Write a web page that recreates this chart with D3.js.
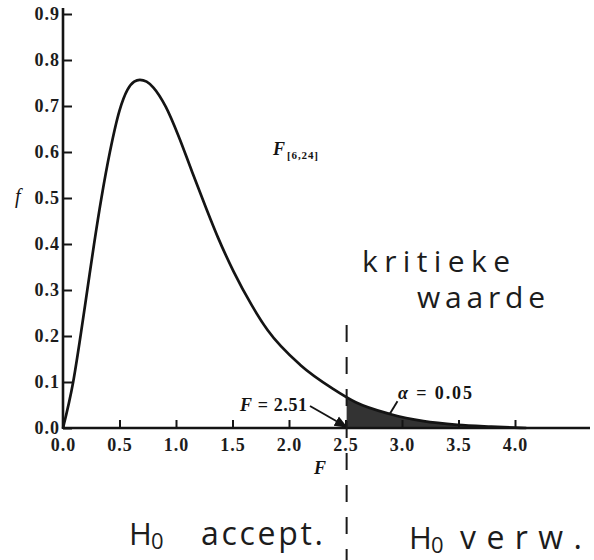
<!DOCTYPE html>
<html>
<head>
<meta charset="utf-8">
<script src="https://cdn.jsdelivr.net/npm/d3@7"></script>
<style>
  body { margin: 0; background: #fff; }
  svg { display: block; }
</style>
</head>
<body>
<svg id="chart" width="594" height="560"></svg>
<script>
// Density of the F distribution with (6, 24) degrees of freedom
const fValues = [0, 0.09, 0.155, 0.215, 0.275, 0.34, 0.415, 0.50, 0.57, 0.63, 0.68, 0.74, 0.80, 0.91,
                 1.03, 1.13, 1.26, 1.37, 1.51, 1.67, 1.81, 2.10, 2.39, 2.59, 2.90, 3.19, 3.49, 3.79, 4.10];
const density = [0, 0.100, 0.200, 0.300, 0.400, 0.500, 0.600, 0.690, 0.735, 0.753, 0.757, 0.753, 0.740, 0.698,
                 0.630, 0.565, 0.482, 0.415, 0.340, 0.267, 0.213, 0.137, 0.085, 0.056, 0.030, 0.015, 0.007, 0.003, 0];
const xTicks = [0, 0.5, 1.0, 1.5, 2.0, 2.5, 3.0, 3.5, 4.0];
const yTicks = [0, 0.1, 0.2, 0.3, 0.4, 0.5, 0.6, 0.7, 0.8, 0.9];
const criticalF = 2.51;
const alpha = 0.05;

const W = 594, H = 560;
const svg = d3.select("#chart");
const serif = "'Liberation Serif', 'Times New Roman', serif";
const hand = "'Open Sans', 'Noto Sans', sans-serif";
const ink = "#141414";
const pencil = "#1c1c1c";

const x = d3.scaleLinear().domain([0, 4]).range([63, 515]);
const y = d3.scaleLinear().domain([0, 0.9]).range([428, 14]);

const points = fValues.map((f, i) => [f, density[i]]);
const line = d3.line().x(d => x(d[0])).y(d => y(d[1])).curve(d3.curveMonotoneX);
const area = d3.area().x(d => x(d[0])).y0(y(0)).y1(d => y(d[1])).curve(d3.curveMonotoneX);

// rejection region (upper tail beyond the critical value)
const defs = svg.append("defs");
defs.append("clipPath").attr("id", "tail")
  .append("rect")
  .attr("x", x(criticalF)).attr("y", 0)
  .attr("width", W - x(criticalF)).attr("height", y(0));
defs.append("marker")
  .attr("id", "tip").attr("viewBox", "0 0 10 10")
  .attr("refX", 9).attr("refY", 5)
  .attr("markerWidth", 7).attr("markerHeight", 7)
  .attr("orient", "auto")
  .append("path").attr("d", "M0,1 L10,5 L0,9 Z").attr("fill", ink);

svg.append("path").datum(points)
  .attr("d", area)
  .attr("fill", "#333")
  .attr("clip-path", "url(#tail)");

// axes
const xAxis = d3.axisBottom(x).tickValues(xTicks).tickFormat(d3.format(".1f"))
  .tickSizeInner(-8).tickSizeOuter(0).tickPadding(10);
const gx = svg.append("g").attr("transform", `translate(0,${y(0)})`).call(xAxis);
gx.select(".domain").remove();
gx.selectAll(".tick line").attr("stroke", ink).attr("stroke-width", 2);
gx.selectAll(".tick text")
  .attr("font-family", serif).attr("font-weight", "bold").attr("font-size", 18)
  .attr("letter-spacing", 1).attr("fill", "#1c1c1c");

const yAxis = d3.axisLeft(y).tickValues(yTicks).tickFormat(d3.format(".1f"))
  .tickSizeInner(-9).tickSizeOuter(0).tickPadding(3);
const gy = svg.append("g").attr("transform", `translate(${x(0)},0)`).call(yAxis);
gy.select(".domain").remove();
gy.selectAll(".tick line").attr("stroke", ink).attr("stroke-width", 2);
gy.selectAll(".tick text")
  .attr("font-family", serif).attr("font-weight", "bold").attr("font-size", 18)
  .attr("letter-spacing", 1).attr("fill", "#1c1c1c");

svg.append("line")
  .attr("x1", x(0)).attr("x2", 590).attr("y1", y(0)).attr("y2", y(0))
  .attr("stroke", ink).attr("stroke-width", 2.6);
svg.append("line")
  .attr("x1", x(0)).attr("x2", x(0)).attr("y1", y(0) + 1).attr("y2", 8)
  .attr("stroke", ink).attr("stroke-width", 2.6);

// density curve
svg.append("path").datum(points)
  .attr("d", line)
  .attr("fill", "none").attr("stroke", ink).attr("stroke-width", 2.7)
  .attr("stroke-linejoin", "round");

// axis titles
svg.append("text").attr("x", 15).attr("y", 203)
  .attr("font-family", serif).attr("font-style", "italic").attr("font-size", 20)
  .attr("fill", ink).text("f");
svg.append("text").attr("x", 320).attr("y", 474).attr("text-anchor", "middle")
  .attr("font-family", serif).attr("font-style", "italic").attr("font-weight", "bold")
  .attr("font-size", 18).attr("fill", ink).text("F");

// distribution name
svg.append("text").attr("x", 273).attr("y", 155)
  .attr("font-family", serif).attr("font-weight", "bold").attr("font-style", "italic")
  .attr("font-size", 18).attr("fill", ink).text("F");
svg.append("text").attr("x", 287).attr("y", 159)
  .attr("font-family", serif).attr("font-weight", "bold").attr("font-size", 11)
  .attr("fill", ink).attr("textLength", 31).attr("lengthAdjust", "spacing").text("[6,24]");

// critical value annotation
const crit = svg.append("text").attr("x", 240).attr("y", 411)
  .attr("font-family", serif).attr("font-weight", "bold").attr("font-size", 18)
  .attr("fill", ink).attr("textLength", 67).attr("lengthAdjust", "spacing");
crit.append("tspan").attr("font-style", "italic").text("F");
crit.append("tspan").text(" = " + criticalF.toFixed(2));
svg.append("line")
  .attr("x1", 310).attr("y1", 406)
  .attr("x2", x(criticalF)).attr("y2", y(0) - 1)
  .attr("stroke", ink).attr("stroke-width", 1.9)
  .attr("marker-end", "url(#tip)");

// significance level annotation
const al = svg.append("text").attr("x", 398).attr("y", 399)
  .attr("font-family", serif).attr("font-weight", "bold").attr("font-size", 18).attr("fill", ink)
  .attr("textLength", 74).attr("lengthAdjust", "spacing");
al.append("tspan").attr("font-style", "italic").text("α");
al.append("tspan").text(" = " + alpha.toFixed(2));
svg.append("line")
  .attr("x1", x(2.89)).attr("y1", y(0.03))
  .attr("x2", x(2.96)).attr("y2", y(0.058))
  .attr("stroke", ink).attr("stroke-width", 1.9);

// hand-drawn boundary between acceptance and rejection
svg.append("line")
  .attr("x1", x(criticalF)).attr("x2", x(criticalF))
  .attr("y1", 325).attr("y2", H)
  .attr("stroke", "#1a1a1a").attr("stroke-width", 2)
  .attr("stroke-dasharray", "17,15");

// handwritten notes
function note(tx, ty, size, len, str) {
  return svg.append("text").attr("x", tx).attr("y", ty)
    .attr("font-family", hand).attr("font-size", size).attr("fill", pencil)
    .attr("textLength", len).attr("lengthAdjust", "spacing").text(str);
}
note(362, 272, 30, 148, "kritieke");
note(417, 308, 30, 128, "waarde");

function hypo(hx, hy, gap, len, str) {
  svg.append("text").attr("x", hx).attr("y", hy)
    .attr("font-family", hand).attr("font-size", 31).attr("fill", pencil).text("H");
  svg.append("text").attr("x", hx + 22).attr("y", hy + 4)
    .attr("font-family", hand).attr("font-size", 22).attr("fill", pencil).text("0");
  note(hx + gap, hy, 32, len, str);
}
hypo(129, 545, 72, 122, "accept.");
hypo(409, 549, 51, 122, "verw.");
</script>
</body>
</html>
